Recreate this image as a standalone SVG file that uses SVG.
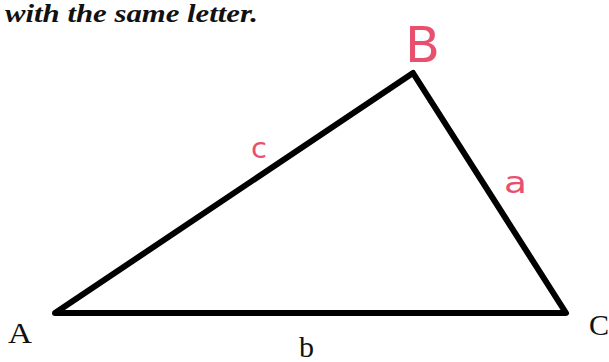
<svg xmlns="http://www.w3.org/2000/svg" width="609" height="362" viewBox="0 0 609 362">
<style>
.lbl{font-family:"Liberation Serif",serif;font-size:30px;fill:#111}
.hand{font-family:"DejaVu Sans","Liberation Sans",sans-serif;fill:#e8506e;font-weight:normal}
.edge{fill:none;stroke:#000;stroke-width:6;stroke-linejoin:round}
</style>
<rect width="609" height="362" fill="#fff"/>
<text x="5" y="22" font-family="Liberation Serif,serif" font-size="25" font-style="italic" font-weight="bold" fill="#111" textLength="253" lengthAdjust="spacingAndGlyphs">with the same letter.</text>
<g id="triangle">
<polygon class="edge" points="55,313 413,73 566,313"/>
</g>
<g id="labels">
<text class="lbl" x="8" y="343" textLength="24" lengthAdjust="spacingAndGlyphs">A</text>
<text class="lbl" x="589" y="335">C</text>
<text class="lbl" x="299" y="357">b</text>
<text class="hand" x="405" y="62" font-size="50" textLength="35" lengthAdjust="spacingAndGlyphs">B</text>
<text class="hand" x="251" y="158" font-size="28" textLength="16" lengthAdjust="spacingAndGlyphs">c</text>
<text class="hand" x="504" y="193" font-size="30" textLength="23" lengthAdjust="spacingAndGlyphs">a</text>
</g>
</svg>
